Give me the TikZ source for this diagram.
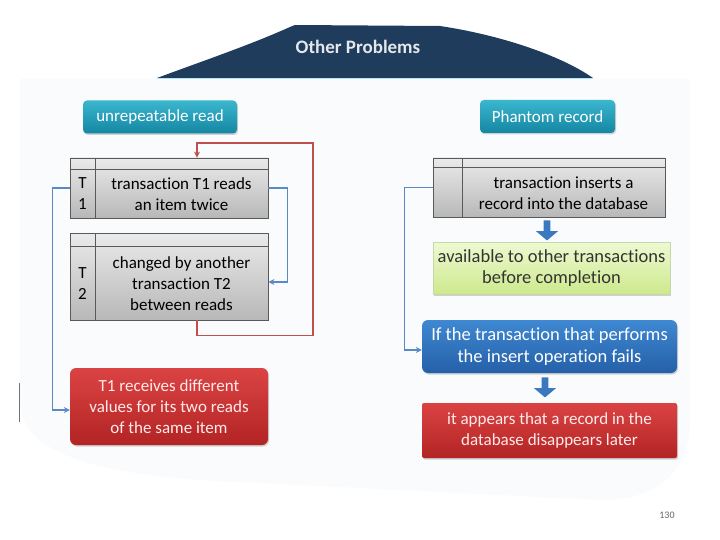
\documentclass[tikz,border=0pt]{standalone}
\usepackage{fontspec}
\setmainfont{Carlito}[Ligatures=NoCommon]
\usetikzlibrary{shapes.arrows,shadows,calc,arrows.meta}
\definecolor{navy}{HTML}{1F3C5C}
\definecolor{tealT}{HTML}{3BB6CF}
\definecolor{tealB}{HTML}{1486A2}
\definecolor{redT}{HTML}{DB4343}
\definecolor{redB}{HTML}{B32424}
\definecolor{bluT}{HTML}{3F88D2}
\definecolor{bluB}{HTML}{2460A8}
\definecolor{grnT}{HTML}{EEF9D2}
\definecolor{grnB}{HTML}{CDE98C}
\definecolor{conB}{HTML}{5A8AC6}
\definecolor{conR}{HTML}{C0504D}
\definecolor{arrB}{HTML}{3A78C0}
\definecolor{bg}{HTML}{FAFBFD}
\tikzset{
  txt/.style={font=\fontsize{17}{21}\selectfont, align=center},
  bigtxt/.style={font=\fontsize{18.5}{21.5}\selectfont, align=center},
  shad/.style={drop shadow={opacity=0.35, shadow xshift=1pt, shadow yshift=-1.5pt}},
  tealbox/.style={txt, rounded corners=4pt, top color=tealT, bottom color=tealB, text=white, inner sep=0pt, shad},
  greybox/.style={draw=black!65, line width=0.9pt, top color=black!8, bottom color=black!28, inner sep=0pt},
  redbox/.style={txt, rounded corners=6pt, top color=redT, bottom color=redB, text=white!92!red, inner sep=0pt, shad},
  bluebox/.style={bigtxt, rounded corners=6pt, top color=bluT, bottom color=bluB, text=white, inner sep=0pt, shad},
  greenbox/.style={bigtxt, top color=grnT, bottom color=grnB, draw=grnB!80!black!60, line width=0.4pt, text=black!80, inner sep=0pt, shad},
  bconn/.style={draw=conB, line width=1.6pt, -{Stealth[length=6pt,width=6pt]}},
  rconn/.style={draw=conR, line width=1.6pt, -{Stealth[length=6pt,width=6pt]}},
  blockarrow/.style={single arrow, fill=arrB, shape border rotate=270, minimum height=20pt, minimum width=22pt, single arrow head extend=5pt, single arrow tip angle=100, inner sep=2pt},
}
\begin{document}
\begin{tikzpicture}[x=1pt,y=-1pt]
\useasboundingbox (0,0) rectangle (720,540);
% faint slide background
\fill[bg] (20,79) -- (690,79) -- (690,420) .. controls (690,470) and (660,500) .. (600,500) -- (200,480) .. controls (60,470) and (20,440) .. (20,400) -- cycle;
\draw[black!55, line width=0.8pt] (19,383) -- (19,422);
% title banner
\fill[navy] (157,78) .. controls (200,62) and (250,45) .. (290,27) -- (295,25) -- (440,26) .. controls (500,35) and (560,55) .. (593,78) -- cycle;
\draw[cyan!30!white, line width=0.8pt] (157,78.5) -- (593,78.5);
\node[font=\fontsize{19}{22}\selectfont\bfseries, text=white!88!navy] (title) at (358,47) {Other Problems};
% left column
\node[tealbox, minimum width=154pt, minimum height=33pt] (ur) at (160,117) {unrepeatable read};
\node[greybox, minimum width=198pt, minimum height=60pt] (t1) at (169,188) {};
\draw[black!65, line width=0.8pt] (t1.north west) ++(0,12) coordinate (t1h) -- (t1h -| t1.east);
\draw[black!65, line width=1pt] (95,158) coordinate (t1d) -- (95,218);
\node[txt] (t1l) at (82.5,194) {T\\1};
\node[txt] (t1t) at (181.5,194) {transaction T1 reads\\an item twice};
\node[greybox, minimum width=198pt, minimum height=87pt] (t2) at (169,276.5) {};
\draw[black!65, line width=0.8pt] (t2.north west) ++(0,14) coordinate (t2h) -- (t2h -| t2.east);
\draw[black!65, line width=1pt] (95,233) coordinate (t2d) -- (95,320);
\node[txt] (t2l) at (82.5,284) {T\\2};
\node[txt] (t2t) at (181.5,284) {changed by another\\transaction T2\\between reads};
\node[redbox, minimum width=198pt, minimum height=77pt] (rr) at (169,406.5) {T1 receives different\\values for its two reads\\of the same item};
\draw[bconn] (t1.east) -- ++(19,0) |- ($(t2.east)+(0,5.5)$);
\draw[rconn] ($(t2.south)+(28,0)$) -- ++(0,15) -| (313,143) -| ($(t1.north)+(28,0)$);
\draw[bconn] (t1.west) -- ++(-17,0) |- ($(rr.west)+(0,3.5)$);
% right column
\node[tealbox, minimum width=135pt, minimum height=33pt] (pr) at (547.5,116.5) {Phantom record};
\node[greybox, minimum width=232pt, minimum height=59pt] (ins) at (549,187.5) {};
\draw[black!65, line width=0.8pt] (ins.north west) ++(0,10) coordinate (insh) -- (insh -| ins.east);
\draw[black!65, line width=1pt] (462,158) coordinate (insd) -- (462,217);
\node[txt] (inst) at (563.5,193) {transaction inserts a\\record into the database};
\node[blockarrow] (a1) at (547,229) {};
\node[greenbox, minimum width=237pt, minimum height=52pt] (grn) at (551.5,268) {available to other transactions\\before completion};
\node[bluebox, minimum width=255pt, minimum height=53pt] (blu) at (549.5,346.5) {If the transaction that performs\\the insert operation fails};
\node[blockarrow] (a2) at (545,386) {};
\node[redbox, rounded corners=2pt, minimum width=255pt, minimum height=55pt] (red2) at (549.5,430.5) {it appears that a record in the\\database disappears later};
\draw[bconn] (ins.west) -- ++(-28,0) |- ($(blu.west)+(0,3.5)$);
% page number
\node[font=\fontsize{10}{12}\selectfont, text=black!60] (pg) at (667,515) {130};
\end{tikzpicture}
\end{document}
